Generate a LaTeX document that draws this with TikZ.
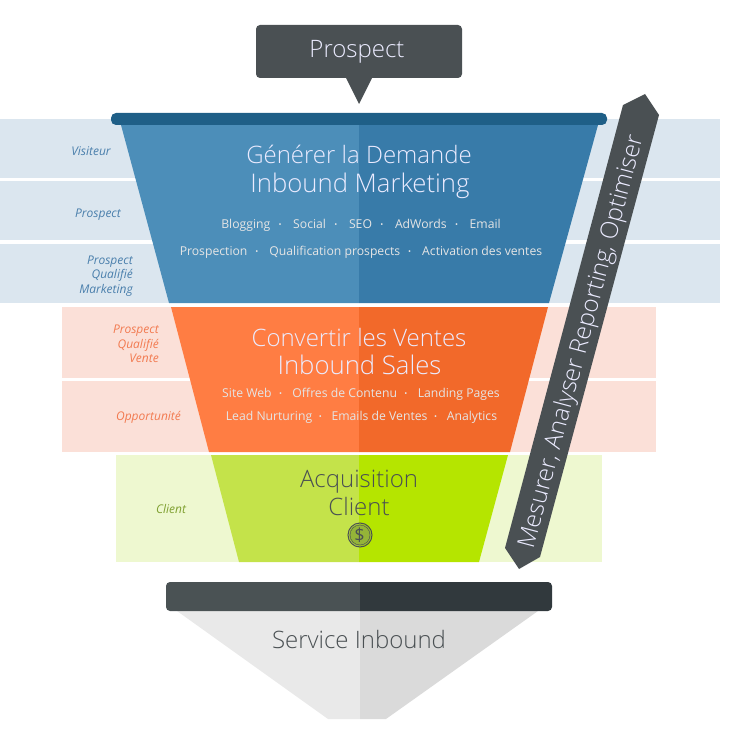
\documentclass[tikz,border=0pt]{standalone}
\usepackage{fontspec}
\setmainfont{Open Sans}
\newfontfamily\lightfont{Open Sans Light}
\usetikzlibrary{positioning}
\definecolor{blueL}{HTML}{4C8EB9}
\definecolor{blueR}{HTML}{387BA9}
\definecolor{blueBar}{HTML}{1F5F87}
\definecolor{blueBand}{HTML}{DBE6EF}
\definecolor{blueText}{HTML}{4A7FAC}
\definecolor{orangeL}{HTML}{FF7D43}
\definecolor{orangeR}{HTML}{F2692A}
\definecolor{orangeBand}{HTML}{FBE0D8}
\definecolor{orangeText}{HTML}{F27A50}
\definecolor{greenL}{HTML}{C4E34A}
\definecolor{greenR}{HTML}{B5E500}
\definecolor{greenBand}{HTML}{EEF8D0}
\definecolor{greenText}{HTML}{7FA030}
\definecolor{slateL}{HTML}{4A5254}
\definecolor{slateR}{HTML}{31393D}
\definecolor{greyL}{HTML}{E9E9E9}
\definecolor{greyR}{HTML}{DADADA}
\definecolor{ink}{HTML}{4A5053}
\tikzset{
    title/.style={font=\lightfont\fontsize{24}{24}\selectfont, inner sep=0pt, text=#1},
    title/.default={white!92!blue},
    titlebig/.style={title, font=\lightfont\fontsize{25.7}{25.7}\selectfont},
    sub/.style={font=\fontsize{12.2}{12.2}\selectfont, inner sep=0pt, text=white!90!black},
    stage/.style={font=\itshape\fontsize{12}{14.6}\selectfont, inner sep=0pt, align=right, text=#1}
}
\newcommand{\dotsep}[1][10]{\hspace{#1pt}\raisebox{.8pt}{\fontsize{8}{8}\selectfont\textbullet}\hspace{#1pt}}
\begin{document}
\begin{tikzpicture}[x=1pt,y=-1pt]
    \useasboundingbox (0,0) rectangle (752,749);
    % bands behind the funnel
    \fill[blueBand] (0,119) rectangle (720,178);
    \fill[blueBand] (0,181) rectangle (720,240);
    \fill[blueBand] (0,244) rectangle (720,303);
    \fill[orangeBand] (62,307) rectangle (656,378);
    \fill[orangeBand] (62,381) rectangle (656,452);
    \fill[greenBand] (116,455) rectangle (602,562);
    % funnel, left and right halves
    \fill[blueL] (121,125) -- (359,125) -- (359,303) -- (169,303) -- cycle;
    \fill[blueR] (359,125) -- (598,125) -- (549,303) -- (359,303) -- cycle;
    \fill[blueBar, rounded corners=5pt] (111,113) rectangle (607,125);
    \fill[orangeL] (171,307) -- (359,307) -- (359,452) -- (209,452) -- cycle;
    \fill[orangeR] (359,307) -- (548,307) -- (510,452) -- (359,452) -- cycle;
    \fill[greenL] (211,455) -- (359,455) -- (359,562) -- (239,562) -- cycle;
    \fill[greenR] (359,455) -- (508,455) -- (479,562) -- (359,562) -- cycle;
    % service
    \fill[greyL] (177,611) -- (360,611) -- (360,719) -- (328,719) -- cycle;
    \fill[greyR] (360,611) -- (538,611) -- (386,719) -- (360,719) -- cycle;
    \begin{scope}
    \clip (166,582) rectangle (360,611);
    \fill[slateL, rounded corners=4pt] (166,582) rectangle (552,611);
    \end{scope}
    \begin{scope}
    \clip (360,582) rectangle (552,611);
    \fill[slateR, rounded corners=4pt] (166,582) rectangle (552,611);
    \end{scope}
    % callout
    \fill[ink, rounded corners=4pt] (256,25) rectangle (462,78);
    \fill[ink] (346,78) -- (372,78) -- (359,104) -- cycle;
    \node[title] (prospect) at (357,52) {Prospect};
    % banner
    \fill[ink] (623,105) -- (645,94) -- (659,115) -- (540,557) -- (519,569) -- (505,548) -- cycle;
    \node[title, rotate=75.1, font=\lightfont\fontsize{24.2}{24.2}\selectfont] (measure) at (582,342) {Mesurer, Analyser Reporting, Optimiser};
    % stage labels
    \node[stage=blueText] (visitor) at (91,151) {Visiteur};
    \node[stage=blueText] (prospectA) at (98,214.5) {Prospect};
    \node[stage=blueText, anchor=east] (mql) at (133,276) {Prospect\\Qualifié\\Marketing};
    \node[stage=orangeText, anchor=east] (sql) at (159,344) {Prospect\\Qualifié\\Vente};
    \node[stage=orangeText] (opportunity) at (148.5,417) {Opportunité};
    \node[stage=greenText] (client) at (171,508.5) {Client};
    % blue stage
    \node[title] (demand) at (359,154) {Générer la Demande};
    \node[titlebig] (inbound) at (360,186) {Inbound Marketing};
    \node[sub] (channels) at (361,225) {Blogging\dotsep[8.4] Social\dotsep[8.4] SEO\dotsep[8.4] AdWords\dotsep[8.4] Email};
    \node[sub] (activation) at (361,252) {Prospection\dotsep[7.9] Qualification prospects\dotsep[7.9] Activation des ventes};
    % orange stage
    \node[title] (convert) at (359,337) {Convertir les Ventes};
    \node[titlebig] (sales) at (359.5,365) {Inbound Sales};
    \node[sub] (web) at (361,394) {Site Web\dotsep[7.3] Offres de Contenu\dotsep[7.3] Landing Pages};
    \node[sub] (nurture) at (361.5,417) {Lead Nurturing\dotsep[6.6] Emails de Ventes\dotsep[6.6] Analytics};
    % green stage
    \node[title=ink] (acquire) at (359,482) {Acquisition};
    \node[title=ink] (customer) at (359,506) {Client};
    \fill[greenText!70!greenL] (360,535) circle (11pt);
    \draw[ink, line width=1pt] (360,535) circle (12pt);
    \draw[ink, line width=.4pt] (360,535) circle (10pt);
    \node[font=\fontsize{18}{18}\selectfont, inner sep=0pt, text=ink] (coin) at (359.5,535) {\$};
    % service text
    \node[title=ink] (service) at (359,639) {Service Inbound};
\end{tikzpicture}
\end{document}
